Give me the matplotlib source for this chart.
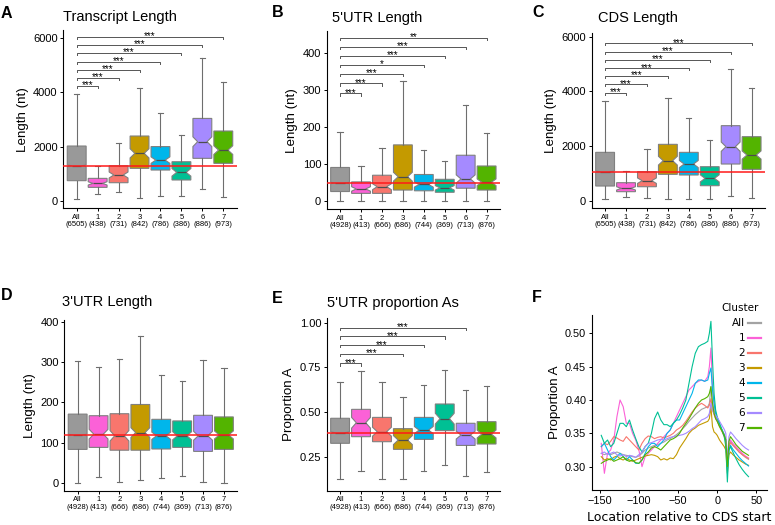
"""
Cluster feature summary
=======================

Notched box plots of transcript features per cluster (A-E) and the
positional A-content profile around the CDS start (F).
"""

import matplotlib
matplotlib.use('Agg')
import matplotlib.pyplot as plt
from matplotlib.lines import Line2D

plt.rcParams['font.family'] = ['Liberation Sans', 'DejaVu Sans']

FIG_W, FIG_H = 775, 525

groups = ['All', '1', '2', '3', '4', '5', '6', '7']
box_colors = ['#999999', '#FB61D7', '#F8766D', '#C49A00',
              '#00B6EB', '#00C094', '#A58AFF', '#53B400']

n_gene = [6505, 438, 731, 842, 786, 386, 886, 973]
n_utr = [4928, 413, 666, 686, 744, 369, 713, 876]

# A - transcript length
tx_lo = [50, 234, 308, 86, 172, 185, 430, 123]
tx_q1 = [740, 493, 665, 1195, 1133, 765, 1565, 1380]
tx_med = [1290, 640, 950, 1750, 1500, 1047, 2180, 1870]
tx_q3 = [2020, 825, 1290, 2390, 2000, 1440, 3040, 2575]
tx_hi = [3930, 1290, 2120, 4150, 3250, 2430, 5260, 4370]
tx_notch = [30, 60, 110, 170, 120, 140, 180, 160]
tx_sig_y = [4238, 4522, 4830, 5138, 5446, 5754, 6037]
tx_sig_grp = [1, 2, 3, 4, 5, 6, 7]
tx_sig_lab = ['***', '***', '***', '***', '***', '***', '***']

# B - 5'UTR length
u5_lo = [0, 0, 0, 0, 0, 0, 0, 0]
u5_q1 = [25, 20, 20, 29, 27, 23, 34, 29]
u5_med = [48, 32, 38, 65, 44, 35, 59, 50]
u5_q3 = [90, 51, 69, 151, 71, 58, 123, 94]
u5_hi = [186, 95, 142, 323, 137, 108, 258, 184]
u5_notch = [2, 6, 8, 12, 7, 6, 11, 9]
u5_sig_y = [290, 317, 342, 367, 391, 416, 440]
u5_sig_grp = [1, 2, 3, 4, 5, 6, 7]
u5_sig_lab = ['***', '***', '***', '*', '***', '***', '**']

# C - CDS length
cds_lo = [61, 122, 85, 73, 73, 73, 183, 85]
cds_q1 = [537, 330, 512, 964, 940, 549, 1342, 1147]
cds_med = [1061, 451, 732, 1464, 1342, 817, 1976, 1671]
cds_q3 = [1769, 659, 1061, 2062, 1769, 1244, 2745, 2342]
cds_hi = [3648, 1098, 1903, 3770, 3013, 2220, 4819, 4111]
cds_notch = [25, 60, 100, 160, 130, 130, 170, 150]
cds_sig_y = [3951, 4256, 4561, 4841, 5146, 5451, 5756]
cds_sig_grp = [1, 2, 3, 4, 5, 6, 7]
cds_sig_lab = ['***', '***', '***', '***', '***', '***', '***']

# D - 3'UTR length
u3_lo = [0, 14, 1, 7, 12, 17, 2, 0]
u3_q1 = [83, 88, 81, 81, 84, 88, 78, 83]
u3_med = [119, 121, 117, 125, 117, 117, 117, 119]
u3_q3 = [171, 167, 172, 195, 158, 154, 168, 164]
u3_hi = [304, 288, 309, 367, 268, 254, 306, 286]
u3_notch = [2, 12, 13, 12, 9, 10, 11, 10]

# E - 5'UTR proportion of A
pa_lo = [0.123, 0.170, 0.127, 0.123, 0.170, 0.203, 0.142, 0.162]
pa_q1 = [0.325, 0.362, 0.334, 0.291, 0.347, 0.396, 0.313, 0.321]
pa_med = [0.384, 0.440, 0.390, 0.343, 0.399, 0.463, 0.371, 0.377]
pa_q3 = [0.465, 0.515, 0.470, 0.407, 0.470, 0.545, 0.437, 0.446]
pa_hi = [0.666, 0.729, 0.666, 0.586, 0.651, 0.735, 0.623, 0.646]
pa_notch = [0.005, 0.030, 0.025, 0.025, 0.020, 0.030, 0.022, 0.022]
pa_sig_y = [0.772, 0.823, 0.873, 0.923, 0.972]
pa_sig_grp = [1, 3, 4, 5, 6]
pa_sig_lab = ['***', '***', '***', '***', '***']

# F - proportion A by position relative to CDS start
loc = [-148, -144, -140, -136, -132, -128, -124, -120, -116, -112, -108, -104,
       -100, -96, -92, -88, -84, -80, -76, -72, -68, -64, -60, -56, -52, -48,
       -44, -40, -36, -32, -28, -24, -20, -16, -12, -10, -8, -6, -4, -2, 0,
       3, 6, 9, 11, 13, 15, 17, 20, 24, 28, 32, 36, 40]
prop_all = [0.320, 0.318, 0.320, 0.318, 0.320, 0.322, 0.320, 0.318, 0.317, 0.316, 0.315, 0.314,
            0.316, 0.320, 0.325, 0.328, 0.330, 0.332, 0.333, 0.335, 0.337, 0.340, 0.342, 0.345,
            0.348, 0.352, 0.357, 0.362, 0.368, 0.373, 0.378, 0.382, 0.386, 0.388, 0.390,
            0.395, 0.420, 0.395, 0.385, 0.375, 0.370, 0.362, 0.355, 0.348, 0.340, 0.295,
            0.330, 0.338, 0.333, 0.328, 0.322, 0.318, 0.314, 0.311]
prop_c1 = [0.335, 0.290, 0.320, 0.325, 0.340, 0.375, 0.400, 0.390, 0.365, 0.365, 0.350, 0.340,
           0.325, 0.300, 0.315, 0.320, 0.325, 0.330, 0.335, 0.340, 0.345, 0.350, 0.355, 0.365,
           0.375, 0.385, 0.395, 0.405, 0.415, 0.420, 0.425, 0.428, 0.430, 0.428, 0.435,
           0.450, 0.478, 0.420, 0.395, 0.380, 0.372, 0.362, 0.355, 0.348, 0.340, 0.300,
           0.330, 0.340, 0.335, 0.330, 0.325, 0.320, 0.316, 0.313]
prop_c2 = [0.330, 0.335, 0.333, 0.338, 0.345, 0.343, 0.340, 0.338, 0.345, 0.340, 0.335, 0.330,
           0.325, 0.335, 0.342, 0.346, 0.345, 0.342, 0.344, 0.345, 0.343, 0.345, 0.347, 0.350,
           0.355, 0.358, 0.362, 0.368, 0.375, 0.382, 0.388, 0.392, 0.395, 0.392, 0.388,
           0.392, 0.402, 0.385, 0.378, 0.372, 0.368, 0.360, 0.353, 0.345, 0.338, 0.300,
           0.330, 0.336, 0.332, 0.327, 0.322, 0.318, 0.315, 0.312]
prop_c3 = [0.315, 0.310, 0.312, 0.310, 0.314, 0.316, 0.312, 0.310, 0.313, 0.310, 0.308, 0.310,
           0.312, 0.314, 0.316, 0.317, 0.318, 0.317, 0.315, 0.310, 0.312, 0.310, 0.313, 0.312,
           0.318, 0.328, 0.335, 0.342, 0.350, 0.355, 0.358, 0.362, 0.364, 0.366, 0.368,
           0.372, 0.390, 0.360, 0.352, 0.350, 0.347, 0.340, 0.335, 0.330, 0.325, 0.290,
           0.318, 0.322, 0.318, 0.314, 0.310, 0.307, 0.304, 0.302]
prop_c4 = [0.330, 0.335, 0.325, 0.315, 0.310, 0.315, 0.320, 0.315, 0.310, 0.315, 0.310, 0.305,
           0.305, 0.310, 0.320, 0.330, 0.335, 0.335, 0.330, 0.335, 0.340, 0.350, 0.355, 0.365,
           0.370, 0.370, 0.380, 0.390, 0.400, 0.410, 0.425, 0.430, 0.430, 0.428, 0.430,
           0.440, 0.448, 0.415, 0.395, 0.380, 0.372, 0.364, 0.356, 0.348, 0.340, 0.298,
           0.325, 0.332, 0.326, 0.320, 0.314, 0.309, 0.305, 0.301]
prop_c5 = [0.347, 0.335, 0.340, 0.330, 0.335, 0.350, 0.365, 0.365, 0.360, 0.370, 0.355, 0.342,
           0.330, 0.322, 0.330, 0.335, 0.350, 0.372, 0.382, 0.370, 0.363, 0.363, 0.360, 0.365,
           0.370, 0.378, 0.388, 0.400, 0.425, 0.450, 0.470, 0.480, 0.483, 0.485, 0.488,
           0.500, 0.518, 0.460, 0.410, 0.385, 0.375, 0.365, 0.355, 0.345, 0.330, 0.277,
           0.325, 0.330, 0.322, 0.312, 0.303, 0.296, 0.290, 0.285]
prop_c6 = [0.320, 0.322, 0.318, 0.320, 0.322, 0.318, 0.316, 0.318, 0.315, 0.317, 0.316, 0.314,
           0.318, 0.322, 0.330, 0.335, 0.336, 0.338, 0.340, 0.341, 0.340, 0.342, 0.344, 0.345,
           0.346, 0.347, 0.348, 0.350, 0.353, 0.357, 0.360, 0.365, 0.370, 0.372, 0.375,
           0.380, 0.395, 0.385, 0.380, 0.377, 0.374, 0.368, 0.362, 0.356, 0.350, 0.310,
           0.345, 0.352, 0.348, 0.342, 0.337, 0.332, 0.328, 0.325]
prop_c7 = [0.305, 0.308, 0.310, 0.312, 0.308, 0.310, 0.312, 0.315, 0.310, 0.308, 0.310, 0.306,
           0.305, 0.310, 0.318, 0.322, 0.328, 0.330, 0.328, 0.325, 0.330, 0.335, 0.340, 0.342,
           0.345, 0.350, 0.358, 0.365, 0.372, 0.380, 0.388, 0.395, 0.400, 0.402, 0.405,
           0.410, 0.420, 0.395, 0.380, 0.372, 0.368, 0.360, 0.354, 0.347, 0.340, 0.300,
           0.338, 0.345, 0.340, 0.333, 0.328, 0.323, 0.320, 0.317]
line_colors = ['#a3a3a3'] + box_colors[1:]


def px_rect(left, top, right, bottom):
    """Axes rectangle from pixel edges (origin top-left)."""
    return [left / FIG_W, 1 - bottom / FIG_H, (right - left) / FIG_W, (bottom - top) / FIG_H]


def fx(x):
    return x / FIG_W


def fy(y):
    return 1 - y / FIG_H


def style_axes(ax, labelsize=8):
    for side in ('top', 'right'):
        ax.spines[side].set_visible(False)
    for side in ('left', 'bottom'):
        ax.spines[side].set_linewidth(0.8)
    ax.tick_params(length=2.5, width=0.7, pad=1.5, labelsize=labelsize, colors='black')


def box_panel(ax, lo, q1, med, q3, hi, notch, counts, ylim, yticks, ylabel, sig=None):
    """Notched box plot with the 'All' median line and significance brackets."""
    stats = [dict(whislo=lo[i], q1=q1[i], med=med[i], q3=q3[i], whishi=hi[i],
                  cilo=med[i] - notch[i], cihi=med[i] + notch[i])
             for i in range(len(groups))]
    bp = ax.bxp(stats, positions=list(range(len(groups))), widths=0.9,
                shownotches=True, showfliers=False, patch_artist=True, capwidths=0.25,
                boxprops=dict(edgecolor='#808080', linewidth=0.8),
                whiskerprops=dict(color='#6e6e6e', linewidth=0.8),
                capprops=dict(color='#6e6e6e', linewidth=0.8),
                medianprops=dict(color='#4d4d4d', linewidth=0.9))
    for patch, c in zip(bp['boxes'], box_colors):
        patch.set_facecolor(c)

    ax.axhline(med[0], color='#ff1a1a', linewidth=1.1, zorder=6)

    if sig:
        heights, ends, labels = sig
        tip = (ylim[1] - ylim[0]) * 0.012
        for h, g, lab in zip(heights, ends, labels):
            ax.plot([0, 0, g, g], [h - tip, h, h, h - tip], color='#555555', lw=0.7)
            ax.annotate(lab, xy=(g / 2, h), xytext=(0, -1.6), textcoords='offset points',
                        ha='center', va='baseline', fontsize=7)

    ax.set_xlim(-0.64, 7.64)
    ax.set_ylim(*ylim)
    ax.set_yticks(yticks)
    ax.set_xticks(list(range(len(groups))))
    ax.set_xticklabels([f'{g}\n({n})' for g, n in zip(groups, counts)],
                       fontsize=5.5, linespacing=1.1)
    ax.set_ylabel(ylabel, fontsize=9.6, labelpad=3)
    style_axes(ax)
    ax.tick_params(axis='x', labelsize=5.5)


fig = plt.figure(figsize=(FIG_W / 100, FIG_H / 100), dpi=100)
fig.patch.set_facecolor('white')

ax_a = fig.add_axes(px_rect(63.3, 30, 236.7, 208.3))
box_panel(ax_a, tx_lo, tx_q1, tx_med, tx_q3, tx_hi, tx_notch, n_gene,
          (-281, 6307), [0, 2000, 4000, 6000], 'Length (nt)',
          (tx_sig_y, tx_sig_grp, tx_sig_lab))

ax_b = fig.add_axes(px_rect(326.7, 31, 500, 209.3))
box_panel(ax_b, u5_lo, u5_q1, u5_med, u5_q3, u5_hi, u5_notch, n_utr,
          (-23, 458.6), [0, 100, 200, 300, 400], 'Length (nt)',
          (u5_sig_y, u5_sig_grp, u5_sig_lab))

ax_c = fig.add_axes(px_rect(591.7, 32.7, 765, 208.3))
box_panel(ax_c, cds_lo, cds_q1, cds_med, cds_q3, cds_hi, cds_notch, n_gene,
          (-278, 6146), [0, 2000, 4000, 6000], 'Length (nt)',
          (cds_sig_y, cds_sig_grp, cds_sig_lab))

ax_d = fig.add_axes(px_rect(64.3, 320, 237.3, 490.7))
box_panel(ax_d, u3_lo, u3_q1, u3_med, u3_q3, u3_hi, u3_notch, n_utr,
          (-20, 405.7), [0, 100, 200, 300, 400], 'Length (nt)')

ax_e = fig.add_axes(px_rect(326.7, 318.3, 500, 490.7))
box_panel(ax_e, pa_lo, pa_q1, pa_med, pa_q3, pa_hi, pa_notch, n_utr,
          (0.0597, 1.0246), [0.25, 0.50, 0.75, 1.00], 'Proportion A',
          (pa_sig_y, pa_sig_grp, pa_sig_lab))
ax_e.set_yticklabels(['0.25', '0.50', '0.75', '1.00'])

# F - line profiles
ax_f = fig.add_axes(px_rect(591.7, 315, 766.7, 490))
f_series = [prop_all, prop_c1, prop_c2, prop_c3, prop_c4, prop_c5, prop_c6, prop_c7]
for vals, c in zip(f_series, line_colors):
    ax_f.plot(loc, vals, color=c, linewidth=0.8)
ax_f.set_xlim(-160.2, 63.2)
ax_f.set_ylim(0.265, 0.5275)
ax_f.set_xticks([-150, -100, -50, 0, 50])
ax_f.set_yticks([0.30, 0.35, 0.40, 0.45, 0.50])
ax_f.set_yticklabels(['0.30', '0.35', '0.40', '0.45', '0.50'])
ax_f.set_ylabel('Proportion A', fontsize=9.6, labelpad=3)
ax_f.set_xlabel('Location relative to CDS start', fontsize=9, family='DejaVu Sans', labelpad=4)
style_axes(ax_f, labelsize=7.8)

# manual legend (labels right-aligned against the key lines)
fig.text(fx(721.7), fy(310.7), 'Cluster', fontsize=7.5, family='DejaVu Sans',
         ha='left', va='baseline')
legend_y = [322.7, 337.7, 353.3, 368.3, 383.3, 398.3, 413.3, 428.3]
for name, c, y in zip(groups, line_colors, legend_y):
    fig.text(fx(745), fy(y), name, fontsize=7.5, family='DejaVu Sans', ha='right', va='center')
    fig.add_artist(Line2D([fx(747.5), fx(761)], [fy(y), fy(y)], color=c, linewidth=1.6,
                          transform=fig.transFigure))

# titles and panel letters
titles = [('Transcript Length', 63, 21), ("5'UTR Length", 332, 21.7), ('CDS Length', 598, 21.7),
          ("3'UTR Length", 62, 305.7), ("5'UTR proportion As", 327, 306.7)]
for text, x, y in titles:
    fig.text(fx(x), fy(y), text, fontsize=10.5, ha='left', va='baseline')

letters = [('A', 1, 18), ('B', 272, 17), ('C', 532, 17),
           ('D', 0.5, 300), ('E', 272, 303), ('F', 532, 302)]
for text, x, y in letters:
    fig.text(fx(x), fy(y), text, fontsize=11.5, fontweight='bold', ha='left', va='baseline')

fig.savefig('out.png', dpi=100, facecolor='white')
plt.close(fig)
